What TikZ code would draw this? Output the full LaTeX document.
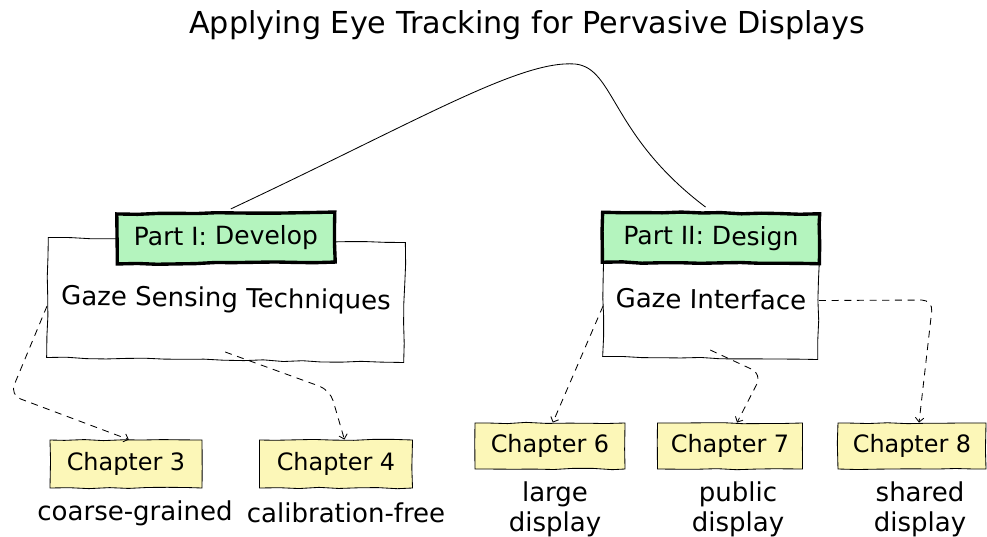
\documentclass[tikz,border=0pt]{standalone}
\usepackage{fontspec}
\setmainfont{DejaVu Sans}
\usepackage{xcolor}
\usetikzlibrary{calc,arrows.meta,decorations.pathmorphing}

\definecolor{partgreen}{HTML}{B4F4BE}
\definecolor{chapyellow}{HTML}{FCF7B8}

\tikzset{
  sketch/.style={decorate,decoration={random steps,segment length=14pt,amplitude=0.5pt}},
  groupbox/.style={draw,sketch,line width=0.6pt,fill=white,rotate=-0.8,
    font=\fontsize{18.5}{22}\selectfont},
  partbox/.style={draw,sketch,line width=2.4pt,fill=partgreen,
    font=\fontsize{17.8}{21}\selectfont},
  chapbox/.style={draw,sketch,line width=0.6pt,fill=chapyellow,
    font=\fontsize{17}{20}\selectfont},
  note/.style={align=center,font=\fontsize{18.5}{21.5}\selectfont},
  dasharrow/.style={dash pattern=on 5pt off 4pt,line width=0.6pt,rounded corners=8pt,
    -{Straight Barb[length=3pt,width=6pt]}}
}

\begin{document}
\begin{tikzpicture}[x=0.025cm,y=-0.025cm]
\pgfmathsetseed{7}
\useasboundingbox (0,0) rectangle (987,537);

%% title
\node[font=\fontsize{21.5}{25}\selectfont] (title) at (527,25) {Applying Eye Tracking for Pervasive Displays};

%% groups
\node[groupbox,minimum width=8.925cm,minimum height=3cm] (gs) at (226,300) {Gaze Sensing Techniques};
\node[groupbox,minimum width=5.375cm,minimum height=2.95cm] (gi) at (711,299) {Gaze Interface};

%% parts
\node[partbox,minimum width=5.45cm,minimum height=1.25cm,rotate=0.5] (pone) at (226,238) {Part I: Develop};
\node[partbox,minimum width=5.425cm,minimum height=1.25cm,rotate=-0.4] (ptwo) at (711,238) {Part II: Design};

%% chapters
\node[chapbox,minimum width=3.8cm,minimum height=1.2cm] (chthree) at (126,464) {Chapter 3};
\node[chapbox,minimum width=3.825cm,minimum height=1.2cm] (chfour) at (336,464) {Chapter 4};
\node[chapbox,minimum width=3.75cm,minimum height=1.15cm] (chsix) at (550,446) {Chapter 6};
\node[chapbox,minimum width=3.625cm,minimum height=1.15cm] (chseven) at (730,446) {Chapter 7};
\node[chapbox,minimum width=3.7cm,minimum height=1.15cm] (cheight) at (912,446) {Chapter 8};

%% chapter notes
\node[note] (nthree) at (135,513) {coarse-grained};
\node[note] (nfour) at (346,513) {calibration-free};
\node[note] (nsix) at (555,509) {large\\display};
\node[note] (nseven) at (738,509) {public\\display};
\node[note] (neight) at (920,509) {shared\\display};

%%% links
\draw[line width=0.6pt,shorten <=4pt,shorten >=5pt] (pone.north) .. controls (420,120) and (520,60) .. (575,64)
  .. controls (615,68) and (610,135) .. (ptwo.north);
\draw[dasharrow] ([yshift=-6pt]gs.west) -- (10,395) -- ([xshift=2pt]chthree.north);
\draw[dasharrow] ([yshift=6pt]gs.south) -- (330,390) -- ([xshift=6pt]chfour.north);
\draw[dasharrow] ([yshift=-6pt]gi.west) -- ([xshift=2pt]chsix.north);
\draw[dasharrow] ([yshift=6pt]gi.south) -- (762,374) -- ([xshift=5pt]chseven.north);
\draw[dasharrow] (gi.east) -- (933,300) -- ([xshift=5pt]cheight.north);
\end{tikzpicture}
\end{document}
